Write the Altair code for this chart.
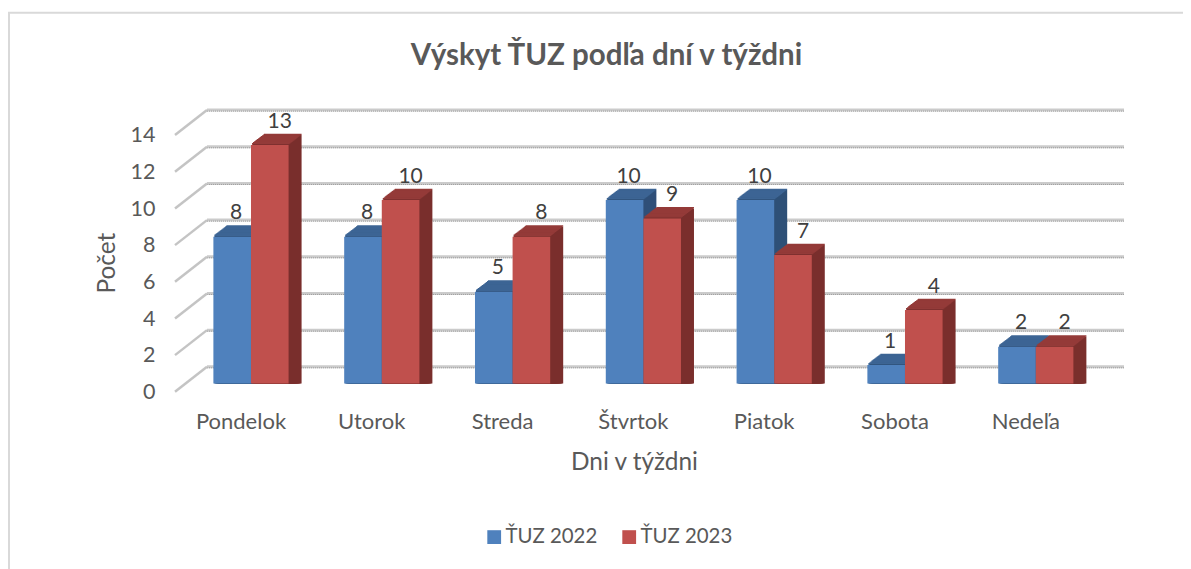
import altair as alt
import pandas as pd

days = ["Pondelok", "Utorok", "Streda", "Štvrtok", "Piatok", "Sobota", "Nedeľa"]
series_names = ["ŤUZ 2022", "ŤUZ 2023"]
values_2022 = [8, 8, 5, 10, 10, 1, 2]
values_2023 = [13, 10, 8, 9, 7, 4, 2]
ticks = [0, 2, 4, 6, 8, 10, 12, 14]

FONT = "Lato"
FRONT = ["#4f81bd", "#c0504d"]
TOP = ["#3d6594", "#943b39"]
SIDE = ["#2f5078", "#7a2f2d"]
TEXT = "#595959"
DEPTH = 13
RISE = 10 / 13
BAR_W = 37.6
SHIFT = [-BAR_W / 2, BAR_W / 2]

rows = []
for name, vals in zip(series_names, [values_2022, values_2023]):
    for d, v in zip(days, vals):
        rows.append({"day": d, "series": name, "value": v, "cap": v + 0.075})
df = pd.DataFrame(rows)
tick_df = pd.DataFrame({"tick": ticks})

x_axis = alt.Axis(
    title="Dni v týždni", titleFont=FONT, titleFontSize=24.4, titleFontWeight="normal",
    titleColor=TEXT, titleX=459, titleY=67, labelAngle=0, labelFont=FONT, labelFontSize=22,
    labelColor=TEXT, labelOffset=-10, labelPadding=28, ticks=False, domain=False, grid=False,
)
y_axis = alt.Axis(
    title="Počet", titleFont=FONT, titleFontSize=24.4, titleFontWeight="normal", titleColor=TEXT,
    titleX=-56, titleY=136, values=ticks, labelFont=FONT, labelFontSize=21.5, labelColor=TEXT,
    labelOffset=9, labelPadding=20, ticks=False, domain=False, grid=False,
)
x_scale = alt.Scale(domain=days, paddingInner=0, paddingOuter=0.1277, align=0.317)
y_scale = alt.Scale(domain=[0, 14], nice=False)
x_enc = alt.X("day:N", scale=x_scale, sort=days, axis=x_axis)
y_enc = alt.Y("value:Q", scale=y_scale, stack=None, axis=y_axis)
y_tick = alt.Y("tick:Q", scale=y_scale, axis=y_axis)

base = alt.Chart(df)
layers = []

# Border of the chart area
layers.append(
    alt.Chart(tick_df.head(1)).mark_rect(fill="transparent", stroke="#d9d9d9", strokeWidth=2).encode(
        x=alt.value(-166), x2=alt.value(1100), y=alt.value(-114), y2=alt.value(600)
    )
)

# Back wall gridlines and left wall diagonals
layers.append(
    alt.Chart(tick_df).mark_rule(color="#cbcbcb", strokeWidth=3, yOffset=-16.6).encode(
        x=alt.value(32), x2=alt.value(949), y=y_tick
    )
)
layers.append(
    alt.Chart(tick_df).mark_rule(color="#a0a0a0", strokeWidth=1, strokeDash=[1, 1], yOffset=-15.6).encode(
        x=alt.value(32), x2=alt.value(949), y=y_tick
    )
)
layers.append(
    alt.Chart(tick_df).mark_rule(color="#c4c4c4", strokeWidth=2.5, yOffset=8.4, y2Offset=-16.6).encode(
        x=alt.value(0), x2=alt.value(32), y=y_tick, y2=alt.Y2("tick:Q"),
    )
)

# Depth of the bars, painted from the back towards the front
for step in range(DEPTH, 0, -1):
    off = -step * RISE
    for s, name in enumerate(series_names):
        sel = base.transform_filter(alt.datum.series == name)
        layers.append(
            sel.mark_bar(
                width=BAR_W, color=SIDE[s], xOffset=SHIFT[s] + step, x2Offset=SHIFT[s] + step,
                yOffset=off, y2Offset=off,
            ).encode(x=x_enc, y=y_enc)
        )
        layers.append(
            sel.mark_bar(
                width=BAR_W, color=TOP[s], xOffset=SHIFT[s] + step, x2Offset=SHIFT[s] + step,
                yOffset=off, y2Offset=off,
            ).encode(x=x_enc, y=y_enc, y2=alt.Y2("cap:Q"))
        )

# Front faces and the legend
color_enc = alt.Color(
    "series:N",
    scale=alt.Scale(domain=series_names, range=FRONT),
    legend=alt.Legend(
        title=None, orient="none", legendX=309, legendY=400, direction="horizontal",
        symbolType="square", symbolSize=190, symbolStrokeWidth=0, symbolOpacity=1,
        labelFont=FONT, labelFontSize=20.4, labelColor=TEXT, columnPadding=21, labelOffset=1,
    ),
)
for s, name in enumerate(series_names):
    layers.append(
        base.transform_filter(alt.datum.series == name)
        .mark_bar(width=BAR_W, xOffset=SHIFT[s], x2Offset=SHIFT[s])
        .encode(x=x_enc, y=y_enc, color=color_enc)
    )

# Data labels
LABEL_DX = [4, 10]
for s, name in enumerate(series_names):
    layers.append(
        base.transform_filter(alt.datum.series == name)
        .mark_text(font=FONT, fontSize=21, color="#404040", dx=SHIFT[s] + LABEL_DX[s], dy=-23.5, baseline="middle")
        .encode(x=x_enc, y=y_enc, text="value:Q")
    )

chart = (
    alt.layer(*layers)
    .properties(
        width=949,
        height=256.7,
        title=alt.TitleParams(
            "Výskyt ŤUZ podľa dní v týždni", font=FONT, fontSize=29.5, fontWeight="bold",
            color=TEXT, anchor="middle", dx=-43, offset=-60,
        ),
        padding={"left": 167, "top": 118.7, "right": 59, "bottom": 185.6},
        autosize=alt.AutoSizeParams(type="none"),
    )
    .configure_view(stroke=None)
)

chart.save("out.html", embed_options={"renderer": "svg", "actions": False})
